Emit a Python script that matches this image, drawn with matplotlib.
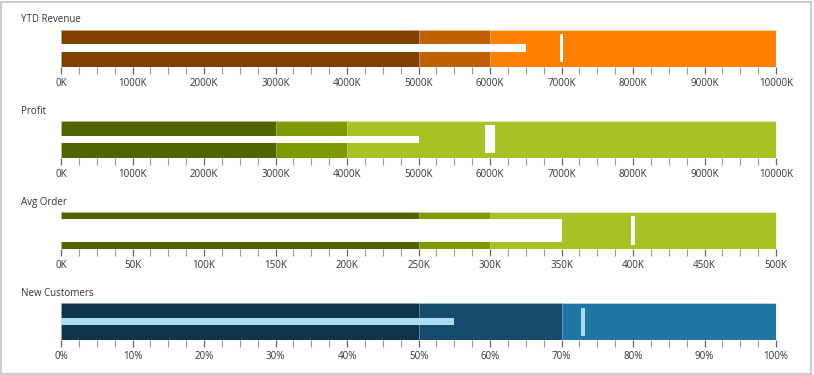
import matplotlib
matplotlib.use("Agg")
import matplotlib.pyplot as plt
from matplotlib.patches import Rectangle
from matplotlib.ticker import MultipleLocator, FuncFormatter

plt.rcParams['font.family'] = ['Open Sans', 'DejaVu Sans']

# ---- data ----
titles = ["YTD Revenue", "Profit", "Avg Order", "New Customers"]
ranges_ytd = [5000, 6000, 10000]
ranges_profit = [3000, 4000, 10000]
ranges_avg = [250, 300, 500]
ranges_newcust = [50, 70, 100]
measures = [6500, 5000, 350, 55]
targets = [7000, 6000, 400, 73]
units = ["K", "K", "K", "%"]
major_steps = [1000, 1000, 50, 10]

all_ranges = [ranges_ytd, ranges_profit, ranges_avg, ranges_newcust]

# ---- styles ----
range_colors = [
    ["#7f3f00", "#bf5f00", "#ff7f00"],
    ["#4f6500", "#7d9a00", "#a9c124"],
    ["#4f6500", "#7d9a00", "#a9c124"],
    ["#11344d", "#164b6b", "#1f77a3"],
]
measure_colors = ["white", "white", "white", "#aadcf4"]
target_colors = ["white", "white", "white", "#aadcf4"]
measure_thick = [0.19, 0.19, 0.62, 0.19]
target_width_px = [3.5, 10, 3.5, 3.5]

W, H = 814, 375
fig = plt.figure(figsize=(W / 100, H / 100), dpi=100)

ax_left, ax_width = 61, 715
tops = [29.5, 120.7, 212.0, 303.3]
bar_h = 37
title_y = [20, 111.5, 202.5, 294]

for i in range(4):
    ax = fig.add_axes([ax_left / W, 1 - (tops[i] + bar_h) / H, ax_width / W, bar_h / H])
    rs = all_ranges[i]
    vmax = rs[-1]
    # ranges, largest first
    for r, c in sorted(zip(rs, range_colors[i]), key=lambda t: -t[0]):
        ax.barh(0, r, height=1.0, color=c, edgecolor=(1, 1, 1, 0.35), linewidth=0.7)
    # measure
    ax.barh(0, measures[i], height=measure_thick[i], color=measure_colors[i],
            edgecolor='none')
    # target (width given in pixels -> data units)
    tw = target_width_px[i] / ax_width * vmax
    ax.barh(0, tw, left=targets[i] - tw / 2, height=0.77, color=target_colors[i],
            edgecolor='none')
    ax.set_xlim(0, vmax)
    ax.set_ylim(-0.5, 0.5)
    ax.set_yticks([])
    for s in ax.spines.values():
        s.set_visible(False)
    ax.xaxis.set_major_locator(MultipleLocator(major_steps[i]))
    ax.xaxis.set_minor_locator(MultipleLocator(major_steps[i] / 4))
    u = units[i]
    ax.xaxis.set_major_formatter(FuncFormatter(lambda v, p, u=u: f"{v:g}{u}"))
    ax.tick_params(axis='x', which='major', length=5, width=0.9, color='#666666',
                   labelsize=7, labelcolor='#333333', pad=3)
    ax.tick_params(axis='x', which='minor', length=5, width=0.8, color='#999999')
    fig.text(21 / W, 1 - title_y[i] / H, titles[i], fontsize=7, color='#333333',
             va='center', ha='left')

# light gray frame around the figure
fig.patches.append(Rectangle((0.5 / W, 1.5 / H), 810.5 / W, 372 / H,
                             transform=fig.transFigure, fill=False,
                             edgecolor='#cccccc', linewidth=1.5))

fig.savefig("out.png", dpi=100)
